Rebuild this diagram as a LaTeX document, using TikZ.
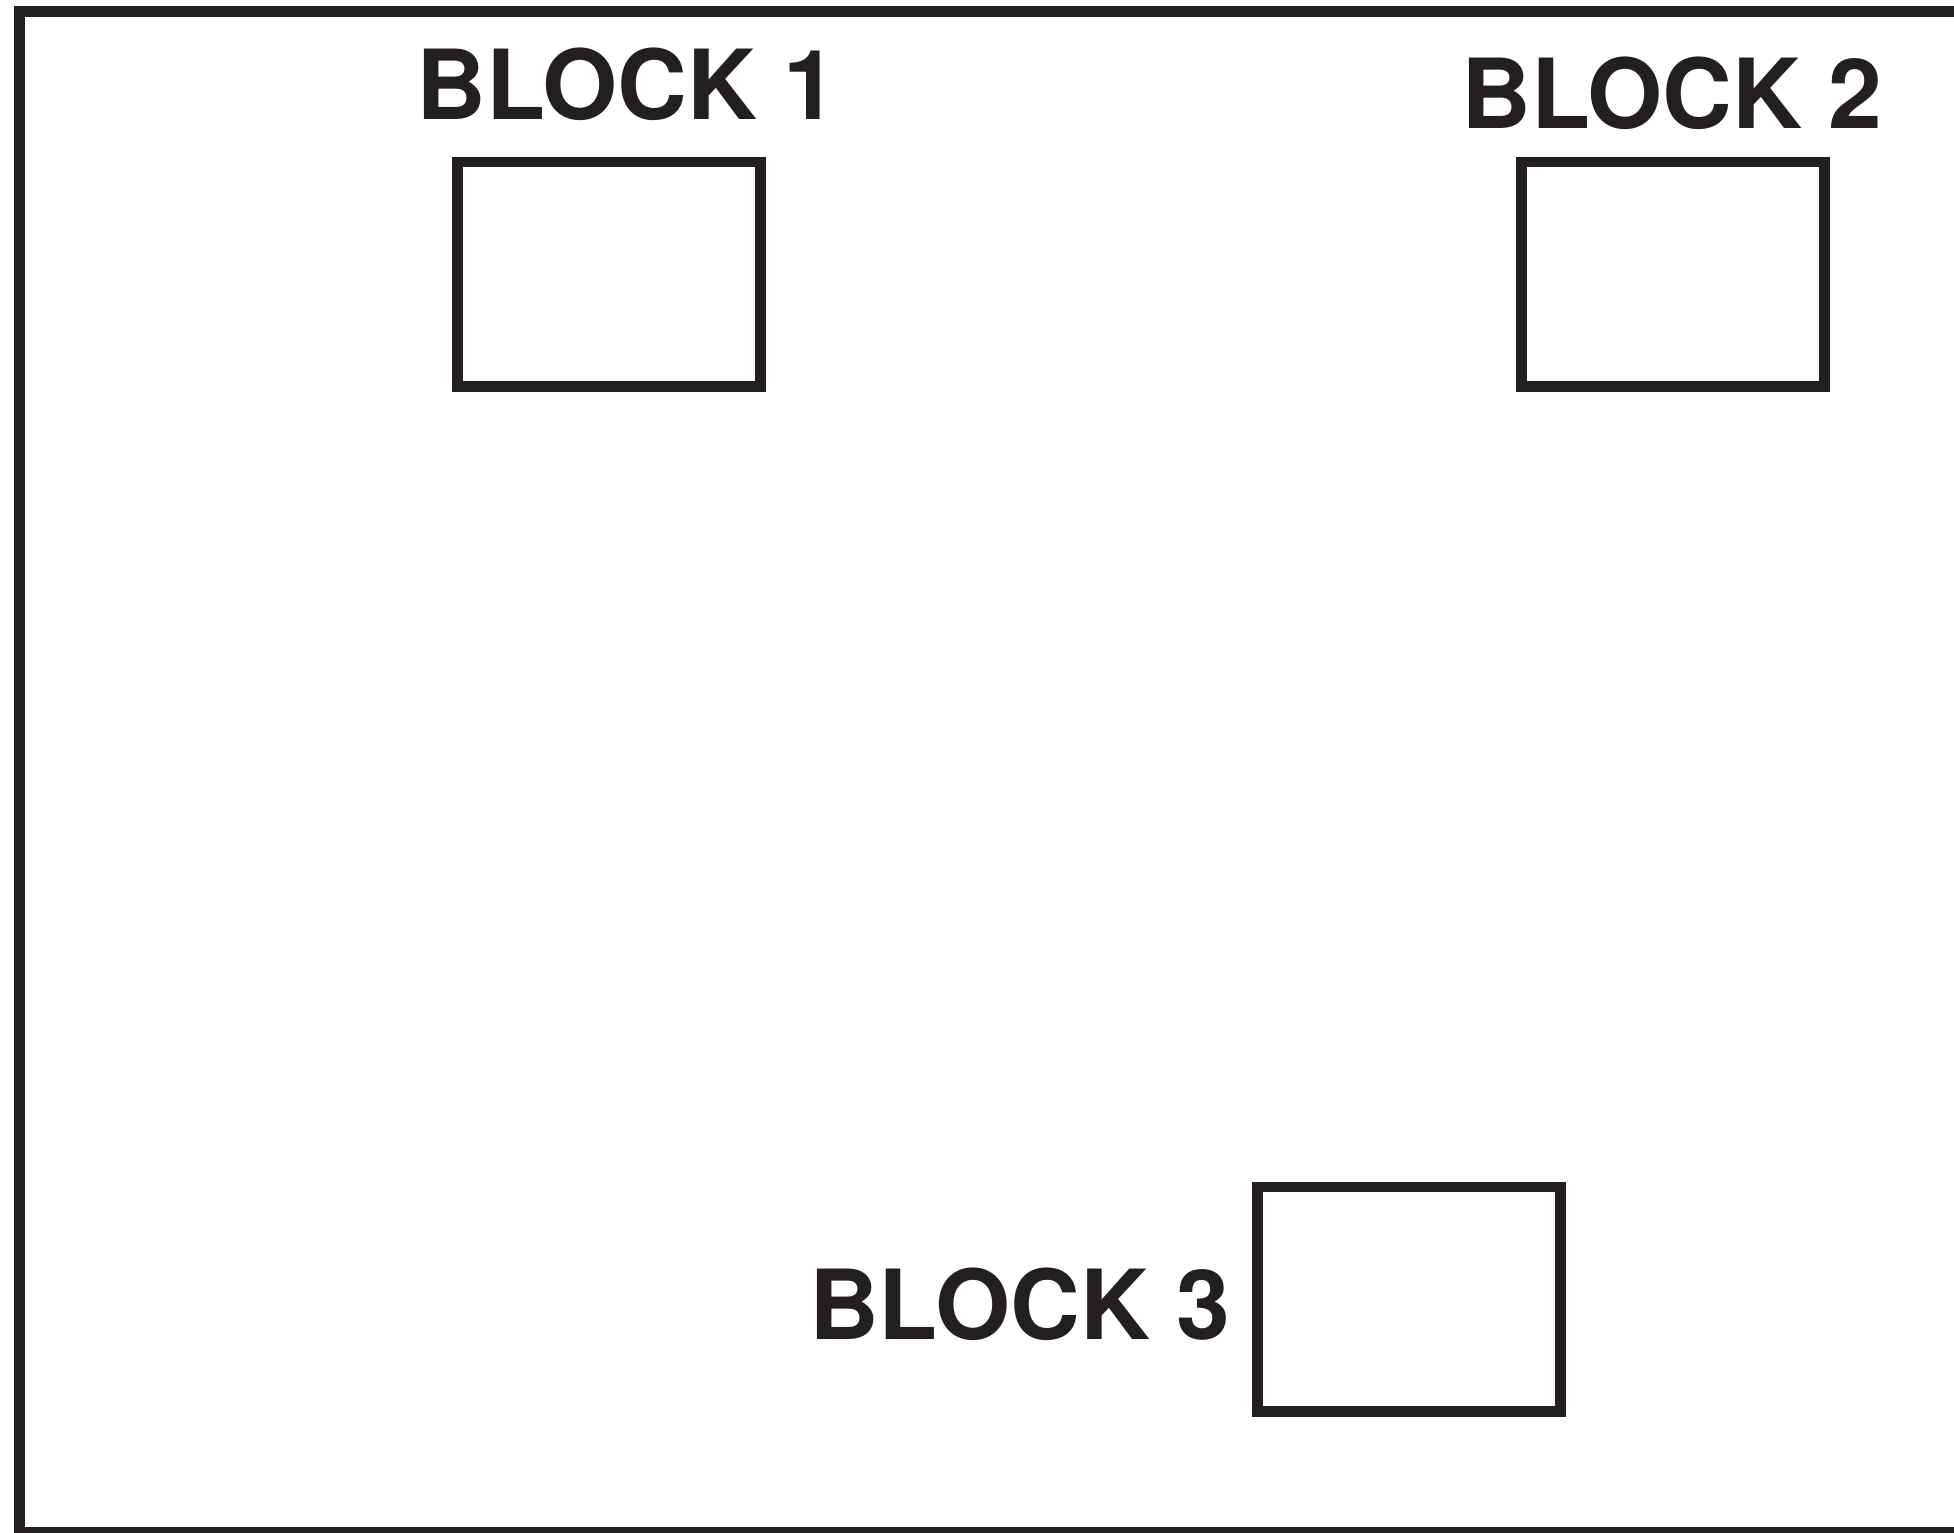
\documentclass[tikz,border=0pt]{standalone}
\usepackage{fontspec}
\setmainfont{TeX Gyre Heros}
\usetikzlibrary{positioning}
\definecolor{inkblack}{HTML}{231F20}

\begin{document}
\begin{tikzpicture}[
    blockbox/.style={draw=inkblack,line width=0.105cm,inner sep=0pt,
      minimum width=3.03cm,minimum height=2.245cm},
    blocklabel/.style={text=inkblack,inner sep=0pt,
      font=\bfseries\fontsize{27.5}{33}\selectfont}
  ]
    \useasboundingbox (0,0) rectangle (19.54,15.32);
    \clip (0,0) rectangle (19.54,15.32);
    % outer frame, running off the right and bottom edges
    \draw[inkblack,line width=0.11cm] (0.195,-0.005) rectangle (20.2,15.205);
    % blocks
    \node[blockbox] (block1) at (6.0875,12.5775) {};
    \node[blockbox] (block2) at (16.7275,12.5775) {};
    \node[blockbox] (block3) at (14.09,2.33) {};
    % labels
    \node[blocklabel,anchor=base] (label1) at (6.27,14.12) {BLOCK 1};
    \node[blocklabel,anchor=base] (label2) at (16.72,14.03) {BLOCK 2};
    \node[blocklabel,anchor=base east] (label3) at (12.31,1.93) {BLOCK 3};
  \end{tikzpicture}
\end{document}
